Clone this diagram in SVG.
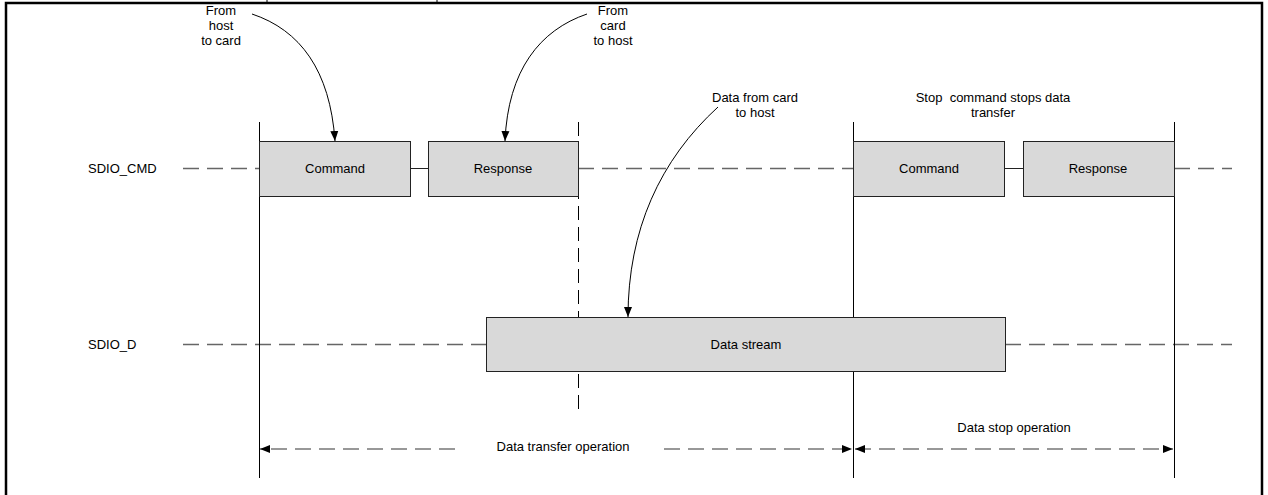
<svg xmlns="http://www.w3.org/2000/svg" width="1268" height="495" viewBox="0 0 1268 495">
<defs>
<style>
text{font-family:"Liberation Sans",Arial,sans-serif;font-size:13px;fill:#000;}
.c{text-anchor:middle;}
.box{fill:#d9d9d9;stroke:#222;stroke-width:1;}
.sig{stroke:#666;stroke-width:1.3;stroke-dasharray:16,8;fill:none;}
.solid{stroke:#222;stroke-width:1;fill:none;}
.vl{stroke:#000;stroke-width:1;fill:none;}
.vd{stroke:#000;stroke-width:1;stroke-dasharray:14,7;fill:none;}
.cur{stroke:#000;stroke-width:1;fill:none;marker-end:url(#ah);}
.dim{stroke:#777;stroke-width:1.6;stroke-dasharray:16,8;fill:none;}
</style>
<marker id="ah" viewBox="0 0 10 10" refX="10" refY="5" markerWidth="10" markerHeight="10" markerUnits="userSpaceOnUse" orient="auto"><path d="M0,1 L10,5 L0,9 z" fill="#000"/></marker>
<marker id="dh" viewBox="0 0 10 10" refX="10" refY="5" markerWidth="12" markerHeight="10" markerUnits="userSpaceOnUse" orient="auto-start-reverse"><path d="M0,1 L10,5 L0,9 z" fill="#000"/></marker>
</defs>
<rect width="1268" height="495" fill="#fff"/>
<g id="frame">
<path d="M6,495 V3 H1262 V495" fill="none" stroke="#000" stroke-width="2.5"/>
<path d="M267,0 V3 M437,0 V3" stroke="#000" stroke-width="1"/>
</g>
<g id="signals">
<text x="88" y="173">SDIO_CMD</text>
<text x="88" y="349">SDIO_D</text>
</g>
<g id="connectors">
<path class="sig" d="M183,168.5 H259"/>
<path class="solid" d="M410,168.5 H428"/>
<path class="sig" d="M578,168.5 H853"/>
<path class="solid" d="M1004,168.5 H1023"/>
<path class="sig" d="M1174,168.5 H1232"/>
<path class="sig" d="M183,344.5 H486"/>
<path class="sig" d="M1005,344.5 H1232"/>
<path class="vl" d="M259.5,122 V478"/>
<path class="vd" d="M578.5,122 V410"/>
<path class="vl" d="M853.5,122 V478"/>
<path class="vl" d="M1174.5,122 V478"/>
<path class="cur" d="M252,14 C300,30 330,70 335,141"/>
<path class="cur" d="M587,14 C540,30 508,70 505,141"/>
<path class="cur" d="M718,107 C660,160 628,230 628,317"/>
<path class="dim" d="M455,449 H260" marker-end="url(#dh)"/>
<path class="dim" d="M664,449 H852" marker-end="url(#dh)"/>
<path class="dim" d="M855,449 H1173" marker-start="url(#dh)" marker-end="url(#dh)"/>
</g>
<g id="cmd1"><rect class="box" x="259.5" y="141.5" width="151" height="55"/><text x="335" y="173" class="c">Command</text></g>
<g id="rsp1"><rect class="box" x="428.5" y="141.5" width="150" height="55"/><text x="503" y="173" class="c">Response</text></g>
<g id="cmd2"><rect class="box" x="853.5" y="141.5" width="151" height="55"/><text x="929" y="173" class="c">Command</text></g>
<g id="rsp2"><rect class="box" x="1023.5" y="141.5" width="151" height="55"/><text x="1098" y="173" class="c">Response</text></g>
<g id="data"><rect class="box" x="486.5" y="317.5" width="519" height="54"/><text x="746" y="349" class="c">Data stream</text></g>
<g id="labels">
<text class="c" x="221" y="15">From</text>
<text class="c" x="221" y="30">host</text>
<text class="c" x="221" y="45">to card</text>
<text class="c" x="613" y="15">From</text>
<text class="c" x="613" y="30">card</text>
<text class="c" x="613" y="45">to host</text>
<text class="c" x="755" y="102">Data from card</text>
<text class="c" x="755" y="117">to host</text>
<text class="c" x="993" y="102" xml:space="preserve">Stop  command stops data</text>
<text class="c" x="993" y="117">transfer</text>
<text class="c" x="563" y="451">Data transfer operation</text>
<text class="c" x="1014" y="432">Data stop operation</text>
</g>
</svg>
